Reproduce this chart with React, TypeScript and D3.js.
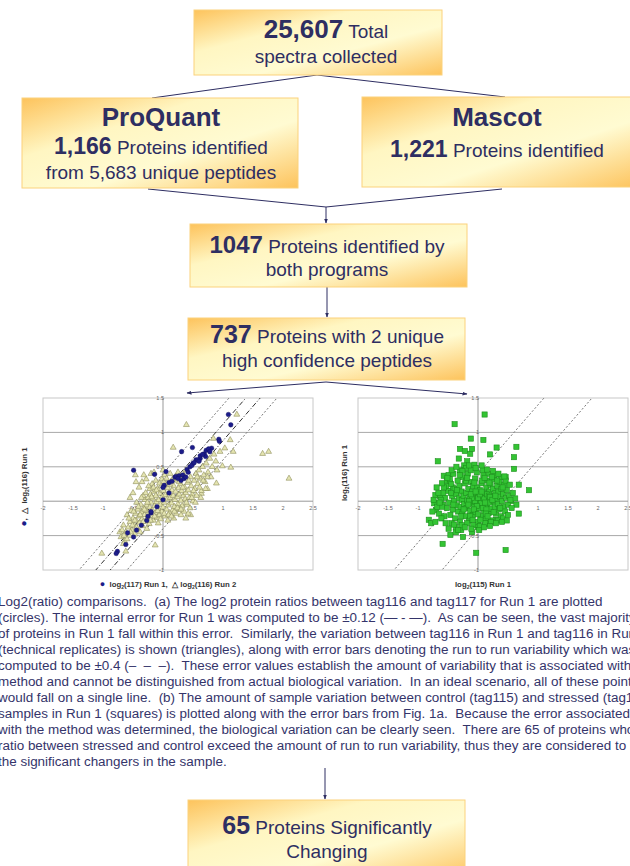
import React, { useLayoutEffect, useRef, useState } from 'react';
import * as d3 from 'd3';

const navy = '#2e2e62';
const font = '"Liberation Sans", Arial, sans-serif';

// flow chart texts: [bold number, normal text] per line
const totalLines = [['25,607', ' Total'], ['', 'spectra collected']];
const proquantLines = [['ProQuant', ''], ['1,166', ' Proteins identified'], ['', 'from 5,683 unique peptides']];
const mascotLines = [['Mascot', ''], ['1,221', ' Proteins identified']];
const bothLines = [['1047', ' Proteins identified by'], ['', 'both programs']];
const uniqueLines = [['737', ' Proteins with 2 unique'], ['', 'high confidence peptides']];
const changingLines = [['65', ' Proteins Significantly'], ['', 'Changing']];

const captionLines = [
  'Log2(ratio) comparisons.  (a) The log2 protein ratios between tag116 and tag117 for Run 1 are plotted',
  '(circles). The internal error for Run 1 was computed to be \u00b10.12 (\u2014 - \u2014).  As can be seen, the vast majority',
  'of proteins in Run 1 fall within this error.  Similarly, the variation between tag116 in Run 1 and tag116 in Run 2',
  '(technical replicates) is shown (triangles), along with error bars denoting the run to run variability which was',
  'computed to be \u00b10.4 (\u2013  \u2013  \u2013).  These error values establish the amount of variability that is associated with the',
  'method and cannot be distinguished from actual biological variation.  In an ideal scenario, all of these points',
  'would fall on a single line.  (b) The amount of sample variation between control (tag115) and stressed (tag116)',
  'samples in Run 1 (squares) is plotted along with the error bars from Fig. 1a.  Because the error associated',
  'with the method was determined, the biological variation can be clearly seen.  There are 65 of proteins whose',
  'ratio between stressed and control exceed the amount of run to run variability, thus they are considered to be',
  'the significant changers in the sample.',
];

// axes
const xTicks = [-2, -1.5, -1, -0.5, 0.5, 1, 1.5, 2, 2.5];
const yTicks = [1.5, 1, 0.5, -0.5, -1];
const gridY = [1, 0.5, -0.5];
const internalError = 0.12;
const runError = 0.4;

// log2(117) Run 1 vs log2(116) Run 1 (circles)
const circles = [
  [1.09, 1.26], [1.13, 1.11], [0.93, 0.9], [0.94, 0.87], [0.81, 0.77], [0.69, 0.69], [0.71, 0.65],
  [0.62, 0.62], [0.49, 0.78], [0.31, 0.72], [-0.49, 0.45], [-0.14, 0.39], [0.05, 0.43], [0.2, 0.35],
  [0.22, 0.36], [0.27, 0.37], [0.33, 0.38], [0.4, 0.46], [0.45, 0.5], [0.5, 0.55], [0.55, 0.6],
  [0.02, 0.23], [0.1, 0.27], [0.15, 0.29], [0.0, 0.2], [-0.27, -0.28], [-0.36, -0.35], [-0.44, -0.42],
  [-0.59, -0.46], [-0.49, -0.52], [-0.62, -0.63], [-0.76, -0.73], [-0.78, -0.76], [-0.25, -0.22],
  [-0.2, -0.17], [-0.1, -0.08], [0.0, 0.02], [0.1, 0.12], [-0.2, -0.15], [0.3, 0.3], [0.35, 0.33],
  [0.38, 0.35], [0.42, 0.42], [0.48, 0.52], [0.52, 0.56], [0.58, 0.6], [0.62, 0.66], [0.66, 0.68],
  [0.72, 0.74], [0.76, 0.76], [0.78, 0.72], [0.25, 0.33], [0.6, 0.58],
];

// log2(116) Run 2 vs log2(116) Run 1 (triangles)
const triangles = [
  [0.39, 1.11], [1.23, 1.26], [0.17, 0.78], [0.84, 0.91], [1.12, 0.89], [1.03, 0.77], [1.17, 0.72],
  [1.66, 0.69], [1.76, 0.72], [0.99, 0.51], [1.13, 0.49], [2.1, 0.33], [0.89, 0.26], [-0.46, 0.38],
  [0.64, 0.11], [0.74, 0.18], [0.38, -0.25], [0.46, -0.2], [-0.13, -0.64], [-1.02, -0.76], [-0.62, -0.73],
  [-0.62, -0.45], [-0.58, -0.38], [-0.55, -0.3], [-0.52, -0.42], [-0.5, -0.25], [-0.48, -0.35],
  [-0.46, -0.18], [-0.45, -0.28], [-0.43, -0.4], [-0.42, -0.12], [-0.4, -0.22], [-0.39, -0.31],
  [-0.37, -0.05], [-0.36, -0.16], [-0.35, -0.26], [-0.34, -0.36], [-0.32, -0.1], [-0.31, -0.2],
  [-0.3, 0.02], [-0.29, -0.29], [-0.28, -0.14], [-0.27, -0.06], [-0.26, -0.24], [-0.25, 0.05],
  [-0.24, -0.18], [-0.23, -0.33], [-0.22, -0.09], [-0.21, 0.1], [-0.2, -0.02], [-0.19, -0.22],
  [-0.18, -0.13], [-0.17, 0.04], [-0.16, -0.28], [-0.15, 0.14], [-0.14, -0.07], [-0.13, -0.17],
  [-0.12, 0.08], [-0.11, -0.01], [-0.1, -0.24], [-0.09, 0.18], [-0.08, -0.11], [-0.07, 0.02],
  [-0.06, -0.2], [-0.05, 0.11], [-0.04, -0.05], [-0.03, 0.22], [-0.02, -0.15], [-0.01, 0.06],
  [0.0, -0.09], [0.01, 0.15], [0.02, -0.02], [0.03, -0.22], [0.04, 0.09], [0.05, 0.26], [0.06, -0.12],
  [0.07, 0.03], [0.08, 0.19], [0.09, -0.06], [0.1, 0.12], [0.11, -0.17], [0.12, 0.05], [0.13, 0.28],
  [0.14, -0.03], [0.15, 0.16], [0.16, -0.13], [0.17, 0.08], [0.18, 0.22], [0.19, -0.08], [0.2, 0.02],
  [0.21, 0.14], [0.22, -0.18], [0.23, 0.3], [0.24, 0.06], [0.25, -0.04], [0.26, 0.19], [0.27, 0.1],
  [0.28, -0.12], [0.29, 0.25], [0.3, 0.01], [0.31, 0.15], [0.32, -0.07], [0.33, 0.33], [0.34, 0.08],
  [0.35, -0.15], [0.36, 0.2], [0.37, 0.03], [0.38, 0.12], [0.4, -0.05], [0.41, 0.27], [0.42, 0.16],
  [0.44, 0.05], [0.45, -0.1], [0.46, 0.35], [0.47, 0.22], [0.49, 0.1], [0.5, 0.0], [0.52, 0.3],
  [0.53, 0.18], [0.55, 0.4], [0.56, 0.08], [0.58, 0.25], [0.6, 0.45], [0.62, 0.33], [0.64, 0.15],
  [0.66, 0.5], [0.68, 0.38], [0.7, 0.28], [0.72, 0.55], [0.75, 0.42], [0.78, 0.62], [0.8, 0.35],
  [0.82, 0.5], [0.85, 0.68], [0.88, 0.58], [0.9, 0.45], [0.95, 0.72],
  [-0.7, -0.52], [-0.66, -0.35], [-0.64, -0.58], [-0.6, -0.2], [-0.56, -0.5], [-0.53, -0.14],
  [-0.47, -0.48], [-0.44, -0.02], [-0.38, -0.45], [-0.33, 0.08], [-0.27, -0.4], [-0.22, 0.18],
  [-0.18, 0.25], [-0.12, 0.3], [-0.08, -0.32], [-0.02, 0.32], [0.03, 0.38], [0.08, -0.28], [0.12, 0.4],
  [0.18, -0.25], [0.25, 0.42], [0.3, -0.2], [0.38, 0.45], [0.42, -0.18], [-0.4, 0.2], [-0.35, 0.28],
  [-0.28, 0.32], [-0.55, 0.05], [-0.2, 0.4], [-0.66, -0.62], [-0.72, -0.45],
  [-0.68, -0.42], [-0.65, -0.5], [-0.6, -0.55], [-0.57, -0.25], [-0.54, -0.45], [-0.51, -0.35],
  [-0.49, -0.15], [-0.47, -0.28], [-0.44, -0.38], [-0.41, -0.08], [-0.38, -0.2], [-0.36, 0.05],
  [-0.33, -0.3], [-0.31, -0.12], [-0.29, 0.12], [-0.26, -0.02], [-0.24, 0.22], [-0.21, -0.28],
  [-0.19, 0.06], [-0.16, 0.2], [-0.14, -0.22], [-0.11, 0.16], [-0.09, -0.14], [-0.06, 0.26],
  [-0.04, -0.26], [0.01, 0.28], [0.02, -0.18], [0.06, 0.33], [0.09, -0.2], [0.11, 0.24], [0.14, -0.22],
  [0.16, 0.32], [0.19, -0.15], [0.21, 0.36], [0.24, -0.1], [0.27, 0.28], [0.3, -0.12], [0.33, 0.2],
  [0.35, 0.38], [0.39, -0.02], [0.43, 0.3], [0.48, 0.05], [0.51, 0.15], [0.54, -0.02], [0.57, 0.35],
  [0.61, 0.2], [0.63, 0.05], [0.67, 0.3], [0.71, 0.18], [0.74, 0.35], [-0.45, 0.28], [-0.5, 0.12],
  [-0.32, 0.38], [-0.15, 0.42], [0.0, 0.45],
];

// log2(115) Run 1 vs log2(116) Run 1 (squares)
const squares = [
  [0.11, 1.26], [-0.39, 1.12], [-0.12, 0.91], [0.09, 0.89], [0.31, 0.78], [0.64, 0.79], [0.6, 0.64],
  [0.2, 0.68], [-0.67, 0.58], [-0.3, 0.76], [-0.22, 0.73], [-0.32, 0.62], [-0.13, 0.69], [-0.1, 0.76],
  [-0.18, 0.58], [-0.23, 0.52], [-0.06, 0.53], [0.6, 0.47], [0.46, 0.35], [0.85, 0.16], [0.68, 0.24],
  [0.68, -0.18], [0.55, 0.0], [0.64, -0.05], [0.46, -0.71], [-0.03, -0.75], [-0.59, -0.62],
  [-0.46, -0.49], [-0.37, -0.45], [-0.28, -0.42], [-0.25, -0.52], [-0.82, -0.27], [-0.78, -0.32],
  [-0.71, -0.3], [-0.71, 0.09], [-0.73, -0.03], [-0.7, -0.13], [-0.63, 0.07], [-0.58, -0.05],
  [-0.57, 0.37], [-0.49, 0.38], [-0.52, 0.3], [-0.47, 0.27], [-0.42, 0.2], [-0.1, -0.45], [0.0, -0.38],
  [0.16, -0.33], [0.3, -0.27],
  [-0.55, 0.05], [-0.52, -0.1], [-0.5, 0.15], [-0.48, -0.02], [-0.46, -0.2], [-0.45, 0.25], [-0.43, 0.08],
  [-0.42, -0.12], [-0.4, 0.0], [-0.39, 0.18], [-0.38, -0.25], [-0.36, 0.1], [-0.35, -0.06], [-0.34, 0.3],
  [-0.33, -0.15], [-0.32, 0.04], [-0.31, 0.22], [-0.3, -0.3], [-0.29, -0.08], [-0.28, 0.14], [-0.27, 0.02],
  [-0.26, -0.18], [-0.25, 0.35], [-0.24, 0.08], [-0.23, -0.04], [-0.22, 0.26], [-0.21, -0.22], [-0.2, 0.12],
  [-0.19, -0.1], [-0.18, 0.01], [-0.17, 0.4], [-0.16, 0.18], [-0.15, -0.28], [-0.14, 0.06], [-0.13, -0.14],
  [-0.12, 0.28], [-0.11, -0.03], [-0.1, 0.14], [-0.09, -0.2], [-0.08, 0.22], [-0.07, 0.04], [-0.06, -0.08],
  [-0.05, 0.33], [-0.04, -0.16], [-0.03, 0.1], [-0.02, -0.02], [-0.01, 0.2], [0.0, -0.3], [0.01, 0.06],
  [0.02, -0.1], [0.03, 0.16], [0.04, 0.0], [0.05, -0.22], [0.06, 0.26], [0.07, 0.08], [0.08, -0.05],
  [0.09, 0.38], [0.1, -0.14], [0.11, 0.12], [0.12, 0.02], [0.13, -0.25], [0.14, 0.2], [0.15, -0.07],
  [0.16, 0.3], [0.17, 0.05], [0.18, -0.17], [0.19, 0.14], [0.2, -0.02], [0.21, 0.24], [0.22, -0.11],
  [0.23, 0.08], [0.24, -0.28], [0.25, 0.18], [0.26, 0.0], [0.27, 0.32], [0.28, -0.08], [0.29, 0.12],
  [0.3, -0.18], [0.31, 0.04], [0.32, 0.22], [0.33, -0.04], [0.34, 0.14], [0.35, -0.12], [0.36, 0.28],
  [0.37, 0.06], [0.38, -0.22], [0.39, 0.18], [0.4, 0.0], [0.42, 0.1], [0.43, -0.08], [0.44, 0.24],
  [0.45, -0.15], [0.47, 0.05], [0.48, 0.16], [0.5, -0.05], [0.52, 0.08],
  [-0.6, -0.08], [-0.58, 0.12], [-0.62, 0.02], [-0.65, -0.18], [-0.56, -0.22], [-0.53, 0.22], [-0.47, 0.32],
  [-0.44, -0.32], [-0.41, 0.4], [-0.37, -0.38], [-0.3, 0.45], [-0.27, -0.35], [-0.2, 0.48], [-0.18, -0.32],
  [-0.12, 0.45], [-0.08, -0.35], [-0.02, 0.42], [0.03, -0.36], [0.08, 0.45], [0.12, -0.32], [0.18, 0.4],
  [0.22, -0.3], [0.28, 0.38], [0.33, -0.28], [0.38, 0.35], [0.42, -0.25], [0.46, 0.3],
  [-0.05, 0.0], [0.0, 0.05], [0.05, -0.03], [-0.1, 0.05], [0.1, 0.04], [-0.02, -0.07], [0.03, 0.1],
  [0.08, -0.1], [-0.07, -0.12], [0.12, -0.02], [0.15, 0.1], [-0.15, 0.0], [0.18, 0.08], [-0.12, 0.1],
  [0.2, 0.06], [0.06, 0.14], [-0.04, 0.14], [0.14, -0.12], [-0.16, -0.05], [0.24, 0.02],
  [-0.74, 0.02], [-0.68, -0.08], [-0.66, 0.12], [-0.61, -0.25], [-0.57, 0.2], [-0.54, -0.32], [-0.51, 0.34],
  [-0.49, -0.4], [-0.44, 0.45], [-0.4, -0.34], [-0.36, 0.5], [-0.33, -0.42], [-0.26, 0.44], [-0.22, -0.38],
  [-0.15, 0.52], [-0.11, -0.4], [-0.04, 0.48], [0.02, -0.42], [0.06, 0.52], [0.1, -0.38], [0.15, 0.46],
  [0.2, -0.36], [0.25, 0.44], [0.3, -0.32], [0.34, 0.4], [0.4, -0.3], [0.44, 0.36], [0.5, -0.2],
  [0.53, 0.24], [0.56, -0.1], [0.58, 0.12], [0.62, 0.04], [0.54, 0.02], [0.48, -0.28], [-0.64, -0.02],
  [-0.6, 0.26], [-0.69, 0.2], [-0.76, -0.15],
  [-0.35, 0.16], [-0.28, -0.22], [-0.2, 0.3], [-0.13, -0.22], [-0.06, 0.27], [0.0, -0.19], [0.07, 0.3],
  [0.13, -0.18], [0.19, 0.27], [0.26, -0.16], [0.32, 0.3], [0.37, -0.1], [0.41, 0.2], [-0.41, -0.05],
  [-0.45, 0.12], [-0.24, -0.12], [-0.09, -0.27], [0.04, -0.27], [0.16, -0.22], [0.29, 0.08], [-0.3, 0.38],
  [-0.18, 0.34], [0.11, 0.34], [0.23, 0.35],
];

function Box({ x0, x1, y0, y1, cx, lines, baselines, boldSize, firstBold }) {
  return (
    <g>
      <rect x={x0} y={y0} width={x1 - x0} height={y1 - y0} fill="url(#boxGrad)" stroke="#fbd27c" strokeWidth={1} />
      {lines.map((ln, i) => (
        <text key={i} x={cx} y={baselines[i]} textAnchor="middle" fill={navy} fontFamily={font} style={{ whiteSpace: 'pre' }}>
          {ln[0] && (
            <tspan fontWeight="bold" fontSize={i === 0 && firstBold ? firstBold : boldSize}>{ln[0]}</tspan>
          )}
          {ln[1] && <tspan fontSize={19}>{ln[1]}</tspan>}
        </text>
      ))}
    </g>
  );
}

function Scatter({ id, left, right, top, bottom, bands, children, xLabel, yLabel, yLabelX, yLabelY }) {
  const x = d3.scaleLinear().domain([-2, 2.5]).range([left, right]);
  const y = d3.scaleLinear().domain([-1, 1.5]).range([bottom, top]);
  const line = d3.line<number[]>().x(d => x(d[0])).y(d => y(d[1]));
  return (
    <g>
      <clipPath id={id}>
        <rect x={left} y={top} width={right - left} height={bottom - top} />
      </clipPath>
      <rect x={left} y={top} width={right - left} height={bottom - top} fill="#fff" stroke="#c8c8c8" strokeWidth={1} />
      {gridY.map(v => (
        <line key={v} x1={left} x2={right} y1={y(v)} y2={y(v)} stroke="#a8a8a8" strokeWidth={1} />
      ))}
      <line x1={left} x2={right} y1={y(0)} y2={y(0)} stroke="#999" strokeWidth={1} />
      <line x1={x(0)} x2={x(0)} y1={top} y2={bottom} stroke="#999" strokeWidth={1} />
      {xTicks.map(v => (
        <text key={v} x={x(v)} y={y(0) + 9} textAnchor="middle" fontSize={5.5} fill="#666" fontFamily={font}>{v}</text>
      ))}
      {yTicks.map(v => (
        <text key={v} x={x(0) + 1} y={y(v) + 2} textAnchor="end" fontSize={5.5} fill="#666" fontFamily={font}>{v}</text>
      ))}
      <g clipPath={`url(#${id})`}>
        {bands.map((b, i) => (
          <path key={i} d={line([[-3, -3 + b.off], [3, 3 + b.off]]) || ''} fill="none"
            stroke={b.color} strokeWidth={1} strokeDasharray={b.dash} />
        ))}
        {children(x, y)}
      </g>
      <text x={x(0) + 5} y={bottom + 17} textAnchor="middle" fontSize={7.8} fontWeight="bold" fill="#333" fontFamily={font} style={{ whiteSpace: 'pre' }}>
        {xLabel}
      </text>
      <text transform={`translate(${yLabelX},${yLabelY}) rotate(-90)`} textAnchor="middle" fontSize={7.8} fontWeight="bold" fill="#333" fontFamily={font} style={{ whiteSpace: 'pre' }}>
        {yLabel}
      </text>
    </g>
  );
}

const sub2 = <tspan fontSize={5} dy={2}>2</tspan>;

export default function App() {
  const firstLine = useRef<SVGTextElement>(null);
  const [sx, setSx] = useState(0.9);
  useLayoutEffect(() => {
    if (firstLine.current) {
      const len = firstLine.current.getComputedTextLength();
      if (len > 0) setSx(604 / len);
    }
  }, []);

  const tri = d3.symbol(d3.symbolTriangle, 15)() || '';
  const leftBands = [
    { off: runError, color: '#777', dash: '2,2' },
    { off: -runError, color: '#777', dash: '2,2' },
    { off: internalError, color: '#333', dash: '5,2,1,2' },
    { off: -internalError, color: '#333', dash: '5,2,1,2' },
  ];
  const rightBands = [
    { off: runError, color: '#777', dash: '2,2' },
    { off: -runError, color: '#777', dash: '2,2' },
  ];

  return (
    <svg width={630} height={866} style={{ position: 'absolute', left: 0, top: 0, background: '#fff' }}>
      <defs>
        <linearGradient id="boxGrad" x1="0" y1="0" x2="1" y2="1">
          <stop offset="0" stopColor="#fdc35c" />
          <stop offset="0.33" stopColor="#fff6c2" />
          <stop offset="0.62" stopColor="#fffbd2" />
          <stop offset="1" stopColor="#fdc35c" />
        </linearGradient>
        <marker id="arr" viewBox="0 0 10 10" refX="9" refY="5" markerWidth="5" markerHeight="5" orient="auto">
          <path d="M0,1 L10,5 L0,9 z" fill={navy} />
        </marker>
      </defs>

      {/* connectors */}
      <g stroke={navy} strokeWidth={1} fill="none">
        <line x1={317} y1={75} x2={152} y2={98} />
        <line x1={317} y1={75} x2={505} y2={97} />
        <line x1={148} y1={189} x2={326} y2={207} />
        <line x1={502} y1={189} x2={326} y2={207} />
        <line x1={326} y1={207} x2={326} y2={223} markerEnd="url(#arr)" />
        <line x1={327} y1={287} x2={327} y2={317} markerEnd="url(#arr)" />
        <line x1={326} y1={382} x2={187} y2={393} markerEnd="url(#arr)" />
        <line x1={326} y1={382} x2={467} y2={394} markerEnd="url(#arr)" />
        <line x1={325} y1={768} x2={325} y2={799} markerEnd="url(#arr)" />
      </g>

      <Box x0={194} x1={442} y0={10} y1={75} cx={326} lines={totalLines} baselines={[38, 63]} boldSize={26} firstBold={26} />
      <Box x0={22} x1={298} y0={98} y1={188} cx={161} lines={proquantLines} baselines={[126, 154, 179]} boldSize={23} firstBold={26} />
      <Box x0={362} x1={640} y0={97} y1={187} cx={497} lines={mascotLines} baselines={[126, 157]} boldSize={23} firstBold={26} />
      <Box x0={190} x1={467} y0={224} y1={287} cx={327} lines={bothLines} baselines={[253, 276]} boldSize={24} firstBold={24} />
      <Box x0={188} x1={465} y0={318} y1={380} cx={327} lines={uniqueLines} baselines={[343, 367]} boldSize={25} firstBold={25} />
      <Box x0={188} x1={465} y0={800} y1={880} cx={327} lines={changingLines} baselines={[834, 858]} boldSize={25} firstBold={25} />

      <Scatter id="clipA" left={43} right={313} top={398} bottom={570} bands={leftBands} yLabelX={27} yLabelY={487}
        xLabel={<><tspan fill="#1c1c8a" fontSize={9}>●</tspan>  log{sub2}<tspan dy={-2}>(117) Run 1,  △ log</tspan>{sub2}<tspan dy={-2}>(116) Run 2</tspan></>}
        yLabel={<><tspan fill="#1c1c8a" fontSize={10}>●</tspan>,  △  log{sub2}<tspan dy={-2}>(116) Run 1</tspan></>}>
        {(x, y) => (
          <g>
            {triangles.map((d, i) => (
              <path key={'t' + i} d={tri} transform={`translate(${x(d[0])},${y(d[1])})`} fill="#e4e4b0" stroke="#8e8e5c" strokeWidth={0.6} />
            ))}
            {circles.map((d, i) => (
              <circle key={'c' + i} cx={x(d[0])} cy={y(d[1])} r={2.3} fill="#1c1c8a" stroke="#10105a" strokeWidth={0.4} />
            ))}
          </g>
        )}
      </Scatter>

      <Scatter id="clipB" left={358} right={628} top={398} bottom={570} bands={rightBands} yLabelX={347} yLabelY={473}
        xLabel={<>log{sub2}<tspan dy={-2}>(115) Run 1</tspan></>}
        yLabel={<>log{sub2}<tspan dy={-2}>(116) Run 1</tspan></>}>
        {(x, y) => (
          <g>
            {squares.map((d, i) => (
              <rect key={'s' + i} x={x(d[0]) - 2.6} y={y(d[1]) - 2.6} width={5.2} height={5.2} fill="#33c433" stroke="#1d8f1d" strokeWidth={0.6} />
            ))}
          </g>
        )}
      </Scatter>

      <g transform={`translate(-2,0) scale(${sx},1)`}>
        {captionLines.map((t, i) => (
          <text key={i} ref={i === 0 ? firstLine : undefined} x={0} y={606 + i * 16} fontSize={13.5}
            fill="#34346a" fontFamily={font} style={{ whiteSpace: 'pre' }}>{t}</text>
        ))}
      </g>
    </svg>
  );
}
